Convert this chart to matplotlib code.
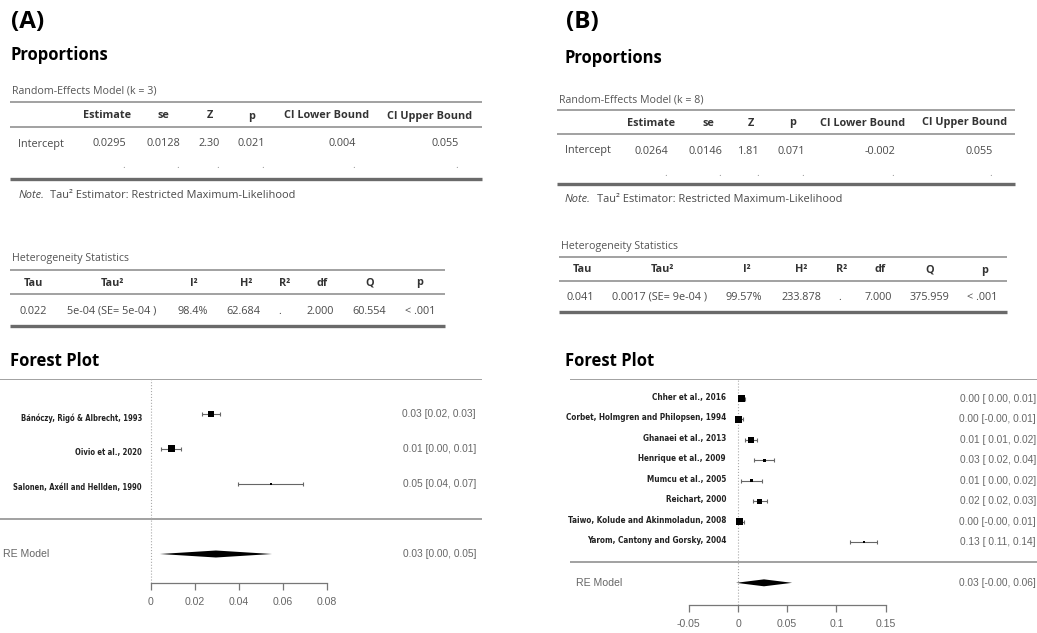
import matplotlib
matplotlib.use("Agg")
import matplotlib.pyplot as plt
from matplotlib import font_manager as fm
from matplotlib.transforms import blended_transform_factory

W, H = 1037, 633

# ---- table data ----
re_cols = ["Estimate", "se", "Z", "p", "CI Lower Bound", "CI Upper Bound"]
re_a = ["0.0295", "0.0128", "2.30", "0.021", "0.004", "0.055"]
re_b = ["0.0264", "0.0146", "1.81", "0.071", "-0.002", "0.055"]
het_cols = ["Tau", "Tau²", "I²", "H²", "R²", "df", "Q", "p"]
het_a = ["0.022", "5e-04 (SE= 5e-04 )", "98.4%", "62.684", ".", "2.000", "60.554", "< .001"]
het_b = ["0.041", "0.0017 (SE= 9e-04 )", "99.57%", "233.878", ".", "7.000", "375.959", "< .001"]

# ---- forest data ----
studies_a = ["Bánóczy, Rigó & Albrecht, 1993", "Oivio et al., 2020",
             "Salonen, Axéll and Hellden, 1990"]
est_a = [0.0273, 0.0091, 0.0545]
lo_a = [0.0232, 0.0047, 0.0397]
hi_a = [0.0314, 0.0136, 0.0693]
prec_a = [0.8, 1.0, 0.0]          # scaled precision -> square size
txt_a = ["0.03 [0.02, 0.03]", "0.01 [0.00, 0.01]", "0.05 [0.04, 0.07]"]
pooled_a = (0.0295, 0.004, 0.055)
pooled_txt_a = "0.03 [0.00, 0.05]"
ticks_a = [0, 0.02, 0.04, 0.06, 0.08]
ticklabels_a = ["0", "0.02", "0.04", "0.06", "0.08"]

studies_b = ["Chher et al., 2016", "Corbet, Holmgren and Philopsen, 1994",
             "Ghanaei et al., 2013", "Henrique et al., 2009", "Mumcu et al., 2005",
             "Reichart, 2000", "Taiwo, Kolude and Akinmoladun, 2008",
             "Yarom, Cantony and Gorsky, 2004"]
est_b = [0.004, 0.001, 0.0134, 0.027, 0.014, 0.022, 0.002, 0.128]
lo_b = [0.001, -0.001, 0.007, 0.016, 0.003, 0.015, -0.001, 0.114]
hi_b = [0.007, 0.005, 0.019, 0.037, 0.024, 0.029, 0.006, 0.141]
prec_b = [1.0, 1.0, 0.8, 0.2, 0.2, 0.6, 1.0, 0.0]
txt_b = ["0.00 [ 0.00, 0.01]", "0.00 [-0.00, 0.01]", "0.01 [ 0.01, 0.02]",
         "0.03 [ 0.02, 0.04]", "0.01 [ 0.00, 0.02]", "0.02 [ 0.02, 0.03]",
         "0.00 [-0.00, 0.01]", "0.13 [ 0.11, 0.14]"]
pooled_b = (0.0264, -0.002, 0.055)
pooled_txt_b = "0.03 [-0.00, 0.06]"
ticks_b = [-0.05, 0, 0.05, 0.1, 0.15]
ticklabels_b = ["-0.05", "0", "0.05", "0.1", "0.15"]

SANS = "Open Sans"
LINE = "#9a9a9a"
BODY = "#4a4a4a"


def pick_label_font():
    # study labels in the reference use a condensed bold face; take one if installed
    narrow = ("condensed", "semi-condensed", "extra-condensed", "ultra-condensed")
    for f in fm.fontManager.ttflist:
        bold = f.weight in ("bold", 700, 600, "semibold", "demibold") or \
            (isinstance(f.weight, int) and f.weight >= 600)
        if bold and ("Condensed" in f.name or "Narrow" in f.name or f.stretch in narrow):
            return fm.FontProperties(fname=f.fname)
    return fm.FontProperties(family="Liberation Sans", weight="bold")


LABEL_FONT = pick_label_font()

fig = plt.figure(figsize=(W / 100, H / 100), dpi=100)
bg = fig.add_axes([0, 0, 1, 1])
bg.set_xlim(0, W)
bg.set_ylim(H, 0)
bg.axis("off")
renderer = fig.canvas.get_renderer()


def fit_size(s, width_px, max_size=7.4):
    t = bg.text(0, 0, s, fontproperties=LABEL_FONT, fontsize=10)
    w = t.get_window_extent(renderer).width
    t.remove()
    return min(max_size, 10 * width_px / w)


def txt(x, y, s, size=7.8, color=BODY, weight="normal", ha="left", style="normal", family=SANS):
    bg.text(x, y, s, fontsize=size, color=color, fontweight=weight, ha=ha, va="center",
            fontstyle=style, family=family)


def hline(y, x0, x1, lw=1.3, color=LINE):
    bg.plot([x0, x1], [y, y], color=color, lw=lw, solid_capstyle="butt")


def re_table(title, x0, x1, ys, head_x, val_x, dot_x, vals, note_xy):
    y_title, y_top, y_head, y_under, y_row, y_dot, y_bot = ys
    txt(x0 + 2, y_title, title, size=7.7, color="#555555")
    hline(y_top, x0, x1)
    for hx, c in zip(head_x, re_cols):
        txt(hx, y_head, c, weight="bold", color="#333333", ha="center")
    hline(y_under, x0, x1)
    txt(x0 + 8, y_row, "Intercept")
    for vx, v in zip(val_x, vals):
        txt(vx, y_row, v, ha="right")
    for dx in dot_x:
        txt(dx, y_dot, ".", ha="right", color="#999999")
    hline(y_bot, x0, x1, lw=2.4, color="#6a6a6a")
    nx, ny, nx2 = note_xy
    txt(nx, ny, "Note.", style="italic", size=7.9)
    txt(nx2, ny, "Tau² Estimator: Restricted Maximum-Likelihood", size=7.9)


def het_table(x0, x1, ys, head_x, val_x, vals):
    y_title, y_top, y_head, y_under, y_row, y_bot = ys
    txt(x0 + 2, y_title, "Heterogeneity Statistics", size=7.7, color="#555555")
    hline(y_top, x0, x1)
    for hx, c in zip(head_x, het_cols):
        txt(hx, y_head, c, weight="bold", color="#333333", ha="center")
    hline(y_under, x0, x1)
    for vx, v in zip(val_x, vals):
        txt(vx, y_row, v, ha="center")
    hline(y_bot, x0, x1, lw=2.4, color="#6a6a6a")


def forest(px_box, x_zero, px_per_unit, y_sep, px_per_row, axis_px, label_x, label_w, label_dy,
           rhs_x, re_x, studies, est, lo, hi, prec, labels, pooled, pooled_txt,
           ticks, ticklabels, dia_h):
    bx0, bx1, by0, by1 = px_box
    ax = fig.add_axes([bx0 / W, 1 - by1 / H, (bx1 - bx0) / W, (by1 - by0) / H])
    ax.set_xlim((bx0 - x_zero) / px_per_unit, (bx1 - x_zero) / px_per_unit)
    ax.set_ylim((y_sep - by1) / px_per_row, (y_sep - by0) / px_per_row)
    ax.patch.set_alpha(0)
    k = len(studies)
    top = k + 1
    axis_y = (y_sep - axis_px) / px_per_row
    ax.axhline(top, color=LINE, lw=1.3)
    ax.axhline(0, color=LINE, lw=1.3)
    ax.vlines(0, axis_y, top, colors="#aaaaaa", linestyles=":", lw=0.8)
    ys = [k - i for i in range(k)]
    ax.errorbar(est, ys, xerr=[[e - l for e, l in zip(est, lo)], [h - e for e, h in zip(est, hi)]],
                fmt="none", ecolor="#666666", elinewidth=0.8, capsize=1.6, capthick=0.8)
    sizes = [(2.0 + 5.0 * p) * 0.72 for p in prec]
    ax.scatter(est, ys, s=[s ** 2 for s in sizes], marker="s", color="black", zorder=3, lw=0)
    e, l, h = pooled
    ax.fill([l, e, h, e], [-1, -1 + dia_h, -1, -1 - dia_h], color="black", lw=0)
    # labels
    tr = blended_transform_factory(bg.transData, ax.transData)
    longest = max(studies, key=len)
    lsize = fit_size(longest, label_w)
    for y, s in zip(ys, studies):
        ax.text(label_x, y - label_dy / px_per_row, s, transform=tr, ha="right", va="center",
                fontproperties=LABEL_FONT, fontsize=lsize, color="#222222")
    for y, s in zip(ys, labels):
        ax.text(rhs_x, y, s, transform=tr, ha="right", va="center", fontsize=7.3,
                family="Liberation Sans", color="#666666")
    ax.text(re_x, -1, "RE Model", transform=tr, ha="left", va="center", fontsize=7.6,
            family="Liberation Sans", color="#666666")
    ax.text(rhs_x, -1, pooled_txt, transform=tr, ha="right", va="center", fontsize=7.3,
            family="Liberation Sans", color="#666666")
    # axis
    for side in ("left", "top", "right"):
        ax.spines[side].set_visible(False)
    ax.spines["bottom"].set_position(("data", axis_y))
    ax.spines["bottom"].set_bounds(ticks[0], ticks[-1])
    ax.spines["bottom"].set_color("#777777")
    ax.spines["bottom"].set_linewidth(0.9)
    ax.set_yticks([])
    ax.set_xticks(ticks)
    ax.set_xticklabels(ticklabels, family="Liberation Sans")
    ax.tick_params(axis="x", direction="out", length=5, width=0.9, color="#777777",
                   labelcolor="#666666", labelsize=7.6, pad=5)
    return ax


# ---------- panel A ----------
txt(11, 22, "(A)", size=17.5, weight="bold", color="black")
txt(11, 55, "Proportions", size=12, weight="bold", color="black")
re_table("Random-Effects Model (k = 3)", 10, 482, (91, 102, 116, 127, 144, 166, 179),
         [107, 163, 210, 252, 327, 430],
         [126, 180, 220, 265, 356, 459],
         [125, 179, 219, 264, 355, 458], re_a, (19, 195, 50))
het_table(10, 445, (258, 270, 283, 294, 311, 326),
          [33, 112, 194, 246, 285, 322, 370, 420],
          [33, 112, 193, 243, 280, 320, 369, 420], het_a)
txt(10, 361, "Forest Plot", size=12, weight="bold", color="black")
forest((0, 482, 379, 630), 151, 2200, 519, 35, 583, 142, 128, 4, 476, 3,
       studies_a, est_a, lo_a, hi_a, prec_a, txt_a, pooled_a, pooled_txt_a,
       ticks_a, ticklabels_a, 0.1)

# ---------- panel B ----------
txt(566, 22, "(B)", size=17.5, weight="bold", color="black")
txt(565, 58, "Proportions", size=12, weight="bold", color="black")
re_table("Random-Effects Model (k = 8)", 557, 1015, (100, 110, 123, 134, 151, 173, 184),
         [651, 708, 751, 793, 863, 965],
         [668, 722, 760, 805, 895, 993],
         [667, 721, 759, 804, 894, 992], re_b, (565, 200, 597))
het_table(559, 1007, (246, 257, 270, 281, 297, 312),
          [582, 662, 747, 801, 842, 880, 930, 985],
          [580, 660, 744, 801, 840, 878, 929, 982], het_b)
txt(565, 361, "Forest Plot", size=12, weight="bold", color="black")
forest((570, 1037, 379, 640), 738, 984, 562.4, 20.43, 605, 726, 158, -1.5, 1036, 576,
       studies_b, est_b, lo_b, hi_b, prec_b, txt_b, pooled_b, pooled_txt_b,
       ticks_b, ticklabels_b, 0.17)

fig.savefig("out.png", dpi=100, facecolor="white")
